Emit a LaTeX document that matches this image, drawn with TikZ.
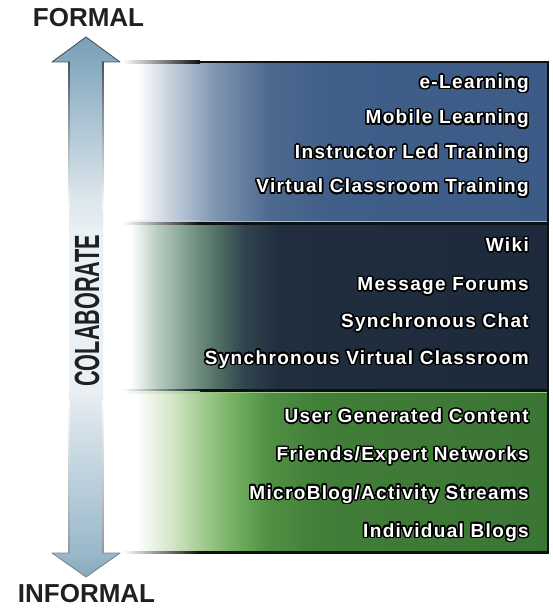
\documentclass[tikz,border=0pt]{standalone}
\usepackage{fontspec}
\setmainfont{Liberation Sans}
\newfontfamily\itemfont[LetterSpace=7.1]{Liberation Sans}
\usepackage[copies]{contour}
\contourlength{1.5pt}
\contournumber{16}
\definecolor{headtxt}{HTML}{1E2124}
\definecolor{arrline}{HTML}{46545E}
\definecolor{lightblueline}{HTML}{A9BCD3}
\definecolor{lightgreenline}{HTML}{96CB85}
\definecolor{edgeblack}{HTML}{0E1114}

\pgfdeclareverticalshading{arrowshade}{100bp}{%
  color(0bp)=(rgb,255:red,134;green,167;blue,189);
  color(25bp)=(rgb,255:red,134;green,167;blue,189);
  color(27.2bp)=(rgb,255:red,154;green,184;blue,202);
  color(39.5bp)=(rgb,255:red,216;green,227;blue,234);
  color(42.3bp)=(rgb,255:red,234;green,240;blue,243);
  color(57bp)=(rgb,255:red,234;green,240;blue,243);
  color(60bp)=(rgb,255:red,220;green,230;blue,236);
  color(72.7bp)=(rgb,255:red,134;green,169;blue,191);
  color(75bp)=(rgb,255:red,122;green,159;blue,183);
  color(100bp)=(rgb,255:red,122;green,159;blue,183)}

\pgfdeclarehorizontalshading{blueshade}{100bp}{%
  color(0bp)=(white); color(25bp)=(white); color(27bp)=(white);
  color(31bp)=(rgb,255:red,196;green,207;blue,220);
  color(36bp)=(rgb,255:red,128;green,150;blue,178);
  color(42.5bp)=(rgb,255:red,77;green,105;blue,144);
  color(50bp)=(rgb,255:red,63;green,94;blue,136);
  color(75bp)=(rgb,255:red,60;green,91;blue,134);
  color(100bp)=(rgb,255:red,60;green,91;blue,134)}

\pgfdeclarehorizontalshading{darkshade}{100bp}{%
  color(0bp)=(white); color(25bp)=(white); color(26.2bp)=(white);
  color(29.1bp)=(rgb,255:red,190;green,208;blue,195);
  color(32.6bp)=(rgb,255:red,130;green,161;blue,145);
  color(36bp)=(rgb,255:red,85;green,115;blue,103);
  color(39.5bp)=(rgb,255:red,48;green,68;blue,79);
  color(43.5bp)=(rgb,255:red,32;green,46;blue,63);
  color(75bp)=(rgb,255:red,28;green,42;blue,60);
  color(100bp)=(rgb,255:red,28;green,42;blue,60)}

\pgfdeclarehorizontalshading{greenshade}{100bp}{%
  color(0bp)=(white); color(25bp)=(white); color(26.8bp)=(white);
  color(30.9bp)=(rgb,255:red,213;green,231;blue,201);
  color(34.4bp)=(rgb,255:red,165;green,204;blue,146);
  color(38.5bp)=(rgb,255:red,114;green,174;blue,96);
  color(42.5bp)=(rgb,255:red,79;green,143;blue,67);
  color(48.4bp)=(rgb,255:red,65;green,126;blue,56);
  color(75bp)=(rgb,255:red,59;green,117;blue,52);
  color(100bp)=(rgb,255:red,59;green,117;blue,52)}

\tikzset{
  itemtxt/.style={font=\itemfont\bfseries\fontsize{19}{19}\selectfont,
    text=white, anchor=base east, inner sep=0pt},
  headtxtstyle/.style={font=\bfseries\fontsize{26}{26}\selectfont,
    text=headtxt, inner sep=0pt},
}

\begin{document}
\begin{tikzpicture}[x=1pt,y=-1pt]
\useasboundingbox (0,0) rectangle (552,612);

% panels
\shade[shading=blueshade] (120,62) rectangle (548,222);
\shade[shading=darkshade] (120,222) rectangle (548,391);
\shade[shading=greenshade] (120,391) rectangle (548,552);

% borders (fading to white on the left)
\shade[left color=white, right color=edgeblack] (122,60.8) rectangle (200,63.2);
\fill[edgeblack] (200,60.8) rectangle (549,63.2);
\shade[left color=white, right color=lightblueline] (122,220.8) rectangle (200,222.4);
\fill[lightblueline] (200,220.8) rectangle (547,222.4);
\shade[left color=white, right color=edgeblack] (122,222.4) rectangle (200,224.6);
\fill[edgeblack] (200,222.4) rectangle (547,224.6);
\shade[left color=white, right color=edgeblack] (122,389.4) rectangle (200,391.6);
\fill[edgeblack] (200,389.4) rectangle (547,391.6);
\shade[left color=white, right color=lightgreenline] (122,391.6) rectangle (200,393.2);
\fill[lightgreenline] (200,391.6) rectangle (547,393.2);
\shade[left color=white, right color=edgeblack] (122,551) rectangle (200,553.5);
\fill[edgeblack] (200,551) rectangle (549,553.5);
\fill[edgeblack] (546.6,60.8) rectangle (549.2,553.5);

% double arrow
\shade[shading=arrowshade] (86,37) -- (120,62) -- (103,62) -- (103,553)
  -- (120,553) -- (86,577) -- (52,553) -- (69,553) -- (69,62) -- (52,62) -- cycle;
\draw[arrline, line width=0.9pt, line join=round]
  (69,62) -- (52,62) -- (86,37) -- (120,62) -- (103,62);
\draw[arrline!70, line width=0.9pt, line join=round]
  (69,553) -- (52,553) -- (86,577) -- (120,553) -- (103,553);
\shade[top color=arrline, bottom color=white] (68.6,62) rectangle (69.6,210);
\shade[top color=arrline, bottom color=white] (102.4,62) rectangle (103.4,210);
\shade[top color=white, bottom color=arrline!60] (68.6,400) rectangle (69.6,553);
\shade[top color=white, bottom color=arrline!60] (102.4,400) rectangle (103.4,553);

% axis labels
\node[headtxtstyle] (formal) at (88.5,17.5) {FORMAL};
\node[headtxtstyle] (informal) at (86.5,594) {INFORMAL};
\node[rotate=90, text=headtxt, inner sep=0pt] (colab) at (87,311)
  {\scalebox{0.62}[1]{\fontsize{35}{35}\selectfont\bfseries COLABORATE}};

% formal items
\node[itemtxt] (el) at (529,88.5) {\contour{black}{e-Learning}};
\node[itemtxt] (ml) at (529,124) {\contour{black}{Mobile Learning}};
\node[itemtxt] (ilt) at (529,158.5) {\contour{black}{Instructor Led Training}};
\node[itemtxt] (vct) at (529,193) {\contour{black}{Virtual Classroom Training}};
% collaborative items
\node[itemtxt] (wiki) at (529,251.5) {\contour{black}{Wiki}};
\node[itemtxt] (mf) at (529,290.5) {\contour{black}{Message Forums}};
\node[itemtxt] (sc) at (529,327.5) {\contour{black}{Synchronous Chat}};
\node[itemtxt] (svc) at (529,364) {\contour{black}{Synchronous Virtual Classroom}};
% informal items
\node[itemtxt] (ugc) at (529,422.5) {\contour{black}{User Generated Content}};
\node[itemtxt] (fen) at (529,460.5) {\contour{black}{Friends/Expert Networks}};
\node[itemtxt] (mb) at (529,499) {\contour{black}{MicroBlog/Activity Streams}};
\node[itemtxt] (ib) at (529,537) {\contour{black}{Individual Blogs}};
\end{tikzpicture}
\end{document}
